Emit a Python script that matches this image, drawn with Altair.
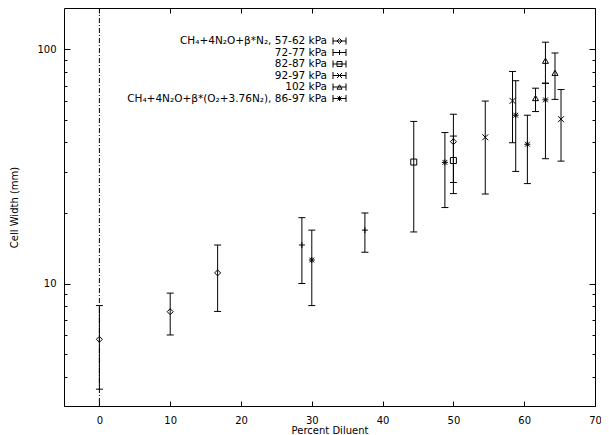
import altair as alt
import pandas as pd

# ---------------- data ----------------
series_names = [
    "CH₄+4N₂O+β*N₂, 57-62 kPa",
    "72-77 kPa",
    "82-87 kPa",
    "92-97 kPa",
    "102 kPa",
    "CH₄+4N₂O+β*(O₂+3.76N₂), 86-97 kPa",
]

s1_x = [0, 10, 16.7, 50]
s1_y = [5.78, 7.58, 11.1, 40.3]
s1_lo = [3.54, 6.03, 7.60, 24.2]
s1_hi = [8.05, 9.10, 14.6, 52.8]

s2_x = [28.6, 37.5]
s2_y = [14.6, 16.9]
s2_lo = [10.0, 13.6]
s2_hi = [19.1, 20.0]

s3_x = [44.4, 50]
s3_y = [33.0, 33.5]
s3_lo = [16.6, 27.0]
s3_hi = [49.2, 42.6]

s4_x = [54.5, 58.35, 65.2]
s4_y = [42.1, 60.2, 50.3]
s4_lo = [24.1, 39.9, 33.3]
s4_hi = [60.1, 80.4, 67.3]

s5_x = [61.6, 63.0, 64.35]
s5_y = [61.9, 89.3, 79.3]
s5_lo = [54.2, 71.6, 61.1]
s5_hi = [68.2, 107.2, 96.4]

s6_x = [30.0, 48.8, 58.8, 60.45, 63.0]
s6_y = [12.6, 32.9, 52.3, 39.3, 60.8]
s6_lo = [8.05, 21.1, 30.1, 26.7, 34.1]
s6_hi = [16.9, 44.1, 73.4, 52.3, 71.6]

x_ticks = [0, 10, 20, 30, 40, 50, 60, 70]
y_ticks = [3, 4, 5, 6, 7, 8, 9, 10, 20, 30, 40, 50, 60, 70, 80, 90, 100]
y_labelled = [10, 100]
zero_line = [0]

# ---------------- styles ----------------
shape_range = [
    "diamond",
    "M-1,0L1,0M0,-1L0,1",
    "square",
    "M-1,-1L1,1M-1,1L1,-1",
    "triangle-up",
    "M-1,0L1,0M0,-1L0,1M-0.8,-0.8L0.8,0.8M-0.8,0.8L0.8,-0.8",
]
FONT = "DejaVu Sans"

# ---------------- tables ----------------
all_series = [
    (s1_x, s1_y, s1_lo, s1_hi),
    (s2_x, s2_y, s2_lo, s2_hi),
    (s3_x, s3_y, s3_lo, s3_hi),
    (s4_x, s4_y, s4_lo, s4_hi),
    (s5_x, s5_y, s5_lo, s5_hi),
    (s6_x, s6_y, s6_lo, s6_hi),
]
rows = []
for name, (xs, ys, los, his) in zip(series_names, all_series):
    for a, b, c, d in zip(xs, ys, los, his):
        rows.append({"series": name, "x": a, "y": b, "lo": c, "hi": d})
df = pd.DataFrame(rows)
df_zero = pd.DataFrame({"x": zero_line})
df_leg = pd.DataFrame({"series": series_names, "row": list(range(len(series_names)))})

xscale = alt.Scale(domain=[-5, 70], nice=False, zero=False)
yscale = alt.Scale(type="log", domain=[3, 150], nice=False)
shape_scale = alt.Scale(domain=series_names, range=shape_range)
row_scale = alt.Scale(domain=[0, 5], range=[33, 90.5])

ytick_test = " || ".join(f"datum.value == {v}" for v in y_labelled)
y_tick_size = alt.ExprRef(expr=f"({ytick_test}) ? -6 : -3")
x_tick_size = alt.ExprRef(expr="-5")

axis_common = dict(
    domain=False, grid=False, tickColor="black", tickWidth=1,
    labelFont=FONT, labelFontSize=10, labelColor="black",
    labelFlush=False, labelOverlap=False,
    titleFont=FONT, titleFontSize=10, titleFontWeight="normal", titleColor="black",
)

x_axis_bottom = alt.Axis(
    orient="bottom", values=x_ticks, tickSize=x_tick_size, labelPadding=14,
    title="Percent Diluent", titleY=19, titleBaseline="top", **axis_common,
)
y_axis_left = alt.Axis(
    orient="left", values=y_ticks, tickSize=y_tick_size, labelPadding=14,
    labelExpr=f"({ytick_test}) ? datum.label : ''",
    title="Cell Width (mm)", titleX=-50, titleBaseline="middle", **axis_common,
)
x_axis_top = alt.Axis(
    orient="top", values=x_ticks, tickSize=x_tick_size, labels=False, title=None,
    domain=False, grid=False, tickColor="black", tickWidth=1,
)
y_axis_right = alt.Axis(
    orient="right", values=y_ticks, tickSize=y_tick_size, labels=False, title=None,
    domain=False, grid=False, tickColor="black", tickWidth=1,
)

base = alt.Chart(df)

zero = alt.Chart(df_zero).mark_rule(
    color="black", strokeWidth=1, strokeDash=[5, 2, 1, 2]
).encode(x=alt.X("x:Q", scale=xscale, axis=None))

bars = base.mark_rule(color="black", strokeWidth=1).encode(
    x=alt.X("x:Q", scale=xscale, axis=x_axis_bottom),
    y=alt.Y("lo:Q", scale=yscale, axis=y_axis_left),
    y2="hi:Q",
)

caps = base.transform_fold(["lo", "hi"], as_=["end", "val"]).mark_tick(
    orient="horizontal", size=7, thickness=1, color="black", opacity=1
).encode(
    x=alt.X("x:Q", scale=xscale, axis=None),
    y=alt.Y("val:Q", scale=yscale, axis=None),
)

points = base.mark_point(filled=False, size=36, strokeWidth=1, color="black", opacity=1).encode(
    x=alt.X("x:Q", scale=xscale, axis=None),
    y=alt.Y("y:Q", scale=yscale, axis=None),
    shape=alt.Shape("series:N", scale=shape_scale, legend=None),
)

mirror = base.mark_point(opacity=0).encode(
    x=alt.X("x:Q", scale=xscale, axis=x_axis_top),
    y=alt.Y("y:Q", scale=yscale, axis=y_axis_right),
)

data_layer = alt.layer(zero, bars, caps, points, mirror).resolve_axis(
    x="independent", y="independent"
)

leg = alt.Chart(df_leg)
leg_y = alt.Y("row:Q", scale=row_scale, axis=None)
leg_text = leg.mark_text(
    align="right", baseline="middle", font=FONT, fontSize=10.5, color="black"
).encode(x=alt.value(263), y=leg_y, text="series:N")
leg_line = leg.mark_rule(color="black", strokeWidth=1).encode(
    x=alt.value(269), x2=alt.value(282), y=leg_y
)
leg_cap_l = leg.mark_tick(orient="vertical", size=7, thickness=1, color="black", opacity=1).encode(
    x=alt.value(269), y=leg_y
)
leg_cap_r = leg.mark_tick(orient="vertical", size=7, thickness=1, color="black", opacity=1).encode(
    x=alt.value(282), y=leg_y
)
leg_pts = leg.mark_point(filled=False, size=25, strokeWidth=1, color="black", opacity=1).encode(
    x=alt.value(275.5), y=leg_y,
    shape=alt.Shape("series:N", scale=shape_scale, legend=None),
)
legend_layer = alt.layer(leg_text, leg_line, leg_cap_l, leg_cap_r, leg_pts)

chart = alt.layer(data_layer, legend_layer).resolve_scale(y="independent").properties(
    width=531,
    height=398,
    autosize="none",
    padding={"left": 56, "top": 0, "right": 6, "bottom": 29},
    background="white",
).configure_view(stroke="black", strokeWidth=1)

chart.save("out.html", embed_options={"renderer": "svg", "actions": False})
